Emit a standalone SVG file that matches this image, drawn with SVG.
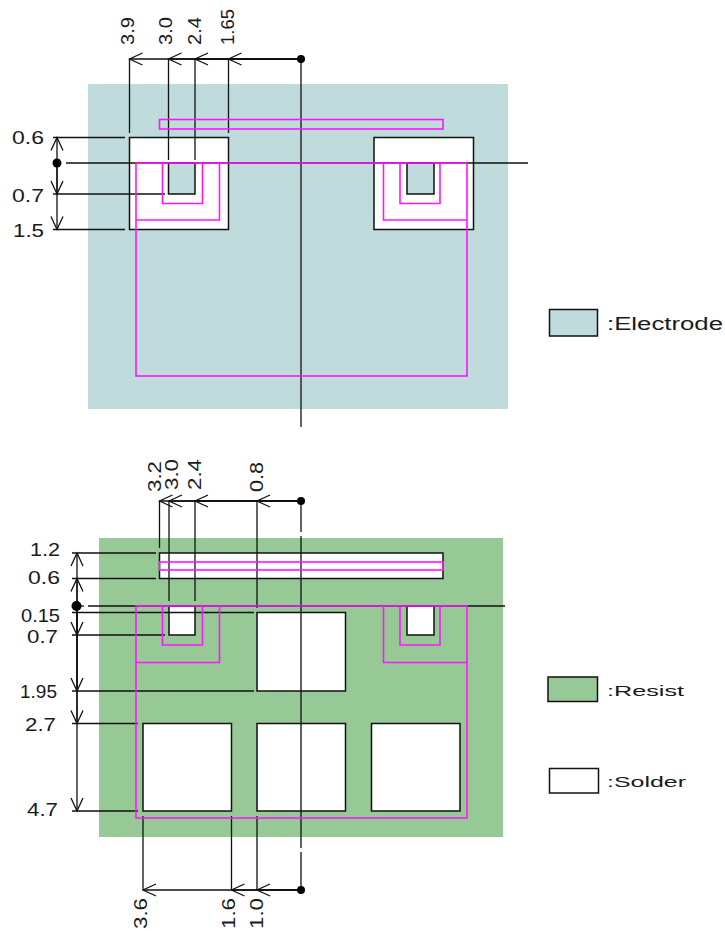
<svg xmlns="http://www.w3.org/2000/svg" width="725" height="931" viewBox="0 0 725 931">
<style>
.el{fill:#bfdbdb}.re{fill:#97c997}
.pad{fill:#fff;stroke:#111;stroke-width:1.5}
.hole{stroke:#111;stroke-width:1.5}
.mg{fill:none;stroke:#ff14ff;stroke-width:1.6}
.ln{fill:none;stroke:#111;stroke-width:1.3}
.ar{fill:none;stroke:#111;stroke-width:1.3;marker-end:url(#a)}
.dot{fill:#000}
text{font-family:"Liberation Sans",Arial,sans-serif;font-size:17.5px;fill:#1a1a1a}
.sm{font-size:15.5px}
</style>
<defs>
<marker id="a" markerUnits="userSpaceOnUse" markerWidth="16" markerHeight="16" refX="14" refY="8" orient="auto" viewBox="0 0 16 16">
<path d="M1 2L14 8L1 14" fill="none" stroke="#111" stroke-width="1.3"/>
</marker>
</defs>

<g id="electrode-plate"><rect class="el" x="88" y="84" width="420" height="325"/></g>
<g id="electrode-pad-left"><rect class="pad" x="129.5" y="137.5" width="99" height="92"/><rect class="el hole" x="168.5" y="163" width="26.5" height="31"/></g>
<g id="electrode-pad-right"><rect class="pad" x="374" y="137.5" width="99.5" height="92"/><rect class="el hole" x="407" y="163" width="27" height="31"/></g>

<g id="resist-plate"><rect class="re" x="99" y="538" width="404" height="299"/></g>
<g id="solder-bar"><rect class="pad" x="159.500" y="553" width="283.500" height="25.500"/></g>
<g id="solder-notch-left"><rect class="pad" x="169" y="606" width="26" height="29"/></g>
<g id="solder-notch-right"><rect class="pad" x="407" y="606" width="27" height="29"/></g>
<g id="solder-center"><rect class="pad" x="257" y="612.500" width="88.500" height="78.500"/></g>
<g id="solder-low-left"><rect class="pad" x="143" y="723.500" width="88.500" height="87.500"/></g>
<g id="solder-low-center"><rect class="pad" x="257" y="723.500" width="88.500" height="87.500"/></g>
<g id="solder-low-right"><rect class="pad" x="371.500" y="723.500" width="88.500" height="87.500"/></g>

<g id="connectors">
<path class="ln" d="M129.500 59V133M168.500 59V160M195 59V160M228.500 59V133M301 59V427M66 163H528M53 137.500H125M53 194H165M53 229.500H125"/>
<path class="ln" d="M301 501V532M301 536V848M301 852V890M159.500 501V548M169 501V601M195 501V601M257 501V608M88 606H505M72 612.500H254M72 553H156M72 578.500H156M72 635H165M72 691H254M72 723.500H138M72 811H138M143 816V890M231.500 816V890M257 816V890"/>
<path class="ar" d="M301 59H129.500"/><path class="ar" d="M301 59H168.500"/><path class="ar" d="M301 59H195"/><path class="ar" d="M301 59H228.500"/>
<path class="ar" d="M57 163V137.500"/><path class="ar" d="M57 163V194"/><path class="ar" d="M57 163V229.500"/>
<path class="ar" d="M301 501H159.500"/><path class="ar" d="M301 501H169"/><path class="ar" d="M301 501H195"/><path class="ar" d="M301 501H257"/>
<path class="ar" d="M77 606V553"/><path class="ar" d="M77 606V578.500"/><path class="ar" d="M77 606V635"/><path class="ar" d="M77 606V691"/><path class="ar" d="M77 606V723.500"/><path class="ar" d="M77 606V811"/>
<path class="ar" d="M301 890H143"/><path class="ar" d="M301 890H231.500"/><path class="ar" d="M301 890H257"/>
<path class="ln" d="M72 606H84"/>
<circle class="dot" cx="301" cy="59" r="4"/><circle class="dot" cx="57" cy="163" r="4.500"/>
<circle class="dot" cx="301" cy="501" r="4"/><circle class="dot" cx="76.500" cy="606" r="5"/><circle class="dot" cx="301" cy="890" r="4"/>
</g>

<g id="electrode-outline">
<rect class="mg" x="159.5" y="119.5" width="283.5" height="9.5"/>
<rect class="mg" x="136" y="163" width="331" height="213"/>
<path class="mg" d="M162.500 163V203.500H202.500V163M219.500 163V220H136M400 163V203.500H440V163M383.500 163V220H467"/>
</g>

<g id="resist-outline">
<rect class="mg" x="159.500" y="562" width="283.500" height="8"/>
<rect class="mg" x="136" y="606" width="331" height="212"/>
<path class="mg" d="M162.500 606V645H202.500V606M219.500 606V662.500H136M400 606V645H440V606M383.500 606V662.500H467"/>
</g>

<g id="labels">
<text x="12" y="144" textLength="32" lengthAdjust="spacingAndGlyphs">0.6</text>
<text x="12" y="202" textLength="32" lengthAdjust="spacingAndGlyphs">0.7</text>
<text x="13" y="237" textLength="31" lengthAdjust="spacingAndGlyphs">1.5</text>
<text x="30" y="556" textLength="30" lengthAdjust="spacingAndGlyphs">1.2</text>
<text x="28" y="584" textLength="32" lengthAdjust="spacingAndGlyphs">0.6</text>
<text x="21" y="622" textLength="39" lengthAdjust="spacingAndGlyphs">0.15</text>
<text x="27" y="643" textLength="31" lengthAdjust="spacingAndGlyphs">0.7</text>
<text x="20" y="698" textLength="37" lengthAdjust="spacingAndGlyphs">1.95</text>
<text x="25" y="731" textLength="31" lengthAdjust="spacingAndGlyphs">2.7</text>
<text x="27" y="816" textLength="31" lengthAdjust="spacingAndGlyphs">4.7</text>
<text transform="translate(134 45) rotate(-90)" textLength="28" lengthAdjust="spacingAndGlyphs">3.9</text>
<text transform="translate(172 45) rotate(-90)" textLength="28" lengthAdjust="spacingAndGlyphs">3.0</text>
<text transform="translate(201 45) rotate(-90)" textLength="28" lengthAdjust="spacingAndGlyphs">2.4</text>
<text transform="translate(234 45) rotate(-90)" textLength="36" lengthAdjust="spacingAndGlyphs">1.65</text>
<text transform="translate(161 492) rotate(-90)" textLength="31" lengthAdjust="spacingAndGlyphs">3.2</text>
<text transform="translate(178 490) rotate(-90)" textLength="31" lengthAdjust="spacingAndGlyphs">3.0</text>
<text transform="translate(201 490) rotate(-90)" textLength="31" lengthAdjust="spacingAndGlyphs">2.4</text>
<text transform="translate(263 492) rotate(-90)" textLength="30" lengthAdjust="spacingAndGlyphs">0.8</text>
<text transform="translate(147 929) rotate(-90)" textLength="31" lengthAdjust="spacingAndGlyphs">3.6</text>
<text transform="translate(235 929) rotate(-90)" textLength="31" lengthAdjust="spacingAndGlyphs">1.6</text>
<text transform="translate(263 929) rotate(-90)" textLength="31" lengthAdjust="spacingAndGlyphs">1.0</text>
</g>

<g id="legend-electrode"><rect class="el hole" x="549.500" y="309.500" width="48" height="26.500"/><text x="607" y="330" textLength="116" lengthAdjust="spacingAndGlyphs">:Electrode</text></g>
<g id="legend-resist"><rect class="re hole" x="548" y="677" width="49.500" height="24.500"/><text class="sm" x="607" y="696" textLength="77" lengthAdjust="spacingAndGlyphs">:Resist</text></g>
<g id="legend-solder"><rect class="pad" x="549.500" y="768.500" width="49" height="24.500"/><text class="sm" x="607" y="787" textLength="79" lengthAdjust="spacingAndGlyphs">:Solder</text></g>
</svg>
